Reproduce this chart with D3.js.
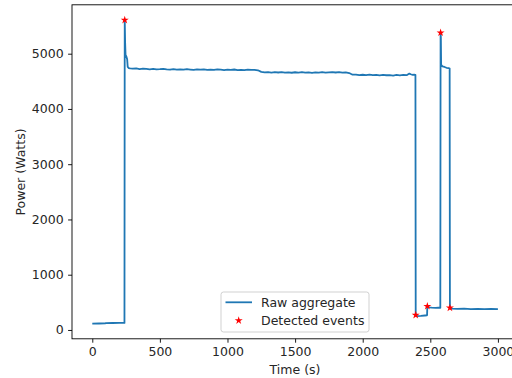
<!DOCTYPE html>
<html>
<head>
<meta charset="utf-8">
<script src="https://cdn.jsdelivr.net/npm/d3@7"></script>
<style>
  body { margin: 0; background: #fff; }
  svg { display: block; font-family: "DejaVu Sans", sans-serif; }
</style>
</head>
<body>
<svg id="chart" width="512" height="378"></svg>
<script>
// raw aggregate readings (s, W)
const times = [0, 50, 95, 100, 150, 200, 238, 240, 243, 246, 252, 258, 262, 270,
  280, 300, 325, 350, 375, 400, 425, 450, 475, 500, 525, 550, 575, 600, 625, 650, 675, 700,
  725, 750, 775, 800, 825, 850, 875, 900, 925, 950, 975, 1000, 1025, 1050, 1075, 1100,
  1125, 1150, 1175, 1200, 1225, 1250, 1275, 1300, 1325, 1350, 1375, 1400, 1425, 1450,
  1475, 1500, 1525, 1550, 1575, 1600, 1625, 1650, 1675, 1700, 1725, 1750, 1775, 1800,
  1825, 1850, 1875, 1900, 1925, 1950, 1975, 2000, 2025, 2050, 2075, 2100, 2125, 2150,
  2175, 2200, 2225, 2250, 2275, 2300, 2325, 2345, 2355, 2370, 2380, 2390,
  2392, 2400, 2430, 2460, 2476, 2478, 2490, 2510, 2540, 2560, 2574,
  2576, 2578, 2580, 2590, 2605, 2620, 2635, 2643, 2645, 2660, 2700, 2750, 2800, 2850,
  2900, 2950, 3000];
const power = [115, 117, 118, 125, 126, 127, 128, 5610, 5200, 4980, 4950, 4900, 4760, 4740,
  4735, 4728, 4733, 4722, 4728, 4724, 4718, 4725, 4716, 4720, 4726, 4717, 4712, 4720, 4713, 4718, 4710, 4719,
  4713, 4707, 4716, 4711, 4718, 4708, 4713, 4706, 4715, 4710, 4703, 4712, 4707, 4714, 4704, 4709,
  4702, 4711, 4706, 4709, 4700, 4670, 4662, 4666, 4658, 4665, 4660, 4667, 4657, 4662,
  4655, 4664, 4659, 4666, 4656, 4661, 4654, 4663, 4658, 4665, 4656, 4663, 4668, 4660,
  4665, 4657, 4662, 4650, 4620, 4623, 4614, 4619, 4611, 4621, 4613, 4616, 4608, 4615,
  4610, 4613, 4605, 4615, 4609, 4617, 4611, 4640, 4628, 4616, 4619, 4615,
  270, 250, 255, 262, 265, 430, 410, 405, 400, 405, 400,
  5380, 5300, 4800, 4770, 4760, 4745, 4740, 4730, 400, 385, 380, 385, 378, 382,
  376, 380, 377];

// detected events
const eventTimes = [240, 2392, 2478, 2576, 2645];
const eventPower = [5610, 270, 430, 5380, 400];

const xTicks = [0, 500, 1000, 1500, 2000, 2500, 3000];
const yTicks = [0, 1000, 2000, 3000, 4000, 5000];

const plotLeft = 72, plotTop = 4.8, plotBottom = 338.8, plotRight = 518.2;

const svg = d3.select('#chart');

const x = d3.scaleLinear().domain([-150, 3150]).range([plotLeft, plotRight]);
const y = d3.scaleLinear().domain([-160, 5885]).range([plotBottom, plotTop]);

const line = d3.line()
    .x((d, i) => x(times[i]))
    .y(d => y(d));

svg.append('path')
    .datum(power)
    .attr('d', line)
    .attr('fill', 'none')
    .attr('stroke', '#1f77b4')
    .attr('stroke-width', 1.8)
    .attr('stroke-linejoin', 'round');

const star = d3.symbol().type(d3.symbolStar).size(20);

svg.selectAll('path.event')
    .data(eventTimes)
    .join('path')
    .attr('class', 'event')
    .attr('d', star)
    .attr('transform', (d, i) => 'translate(' + x(d) + ',' + y(eventPower[i]) + ')')
    .attr('fill', 'red');

// frame
svg.append('rect')
    .attr('x', plotLeft).attr('y', plotTop)
    .attr('width', plotRight - plotLeft).attr('height', plotBottom - plotTop)
    .attr('fill', 'none')
    .attr('stroke', '#000')
    .attr('stroke-width', 0.9);

const xAxis = svg.append('g')
    .attr('transform', 'translate(0,' + plotBottom + ')')
    .call(d3.axisBottom(x).tickValues(xTicks).tickFormat(d3.format('d'))
        .tickSize(3.9).tickPadding(4.5).tickSizeOuter(0));

const yAxis = svg.append('g')
    .attr('transform', 'translate(' + plotLeft + ',0)')
    .call(d3.axisLeft(y).tickValues(yTicks).tickFormat(d3.format('d'))
        .tickSize(3.9).tickPadding(4.5).tickSizeOuter(0));

[xAxis, yAxis].forEach(g => {
    g.select('.domain').remove();
    g.selectAll('line').attr('stroke', '#000').attr('stroke-width', 0.9);
    g.selectAll('text')
        .attr('fill', '#262626')
        .style('font-size', '12.5px')
        .style('font-family', 'DejaVu Sans');
});

svg.append('text')
    .attr('x', 295)
    .attr('y', 374)
    .attr('text-anchor', 'middle')
    .attr('fill', '#262626')
    .style('font-size', '12.5px')
    .text('Time (s)');

svg.append('text')
    .attr('transform', 'translate(25,172) rotate(-90)')
    .attr('text-anchor', 'middle')
    .attr('fill', '#262626')
    .style('font-size', '12.5px')
    .text('Power (Watts)');

// legend
const lg = svg.append('g').attr('transform', 'translate(221,292)');
lg.append('rect')
    .attr('width', 148).attr('height', 40)
    .attr('rx', 2.5)
    .attr('fill', '#fff').attr('fill-opacity', 0.8)
    .attr('stroke', '#cccccc').attr('stroke-width', 0.9);
lg.append('line')
    .attr('x1', 4.5).attr('x2', 31).attr('y1', 10.3).attr('y2', 10.3)
    .attr('stroke', '#1f77b4').attr('stroke-width', 1.8);
lg.append('path')
    .attr('d', star)
    .attr('transform', 'translate(17.7,28.5)')
    .attr('fill', 'red');
lg.append('text').attr('x', 40).attr('y', 14.5).attr('fill', '#262626').style('font-size', '12.5px').text('Raw aggregate');
lg.append('text').attr('x', 40).attr('y', 32.5).attr('fill', '#262626').style('font-size', '12.5px').text('Detected events');
</script>
</body>
</html>
